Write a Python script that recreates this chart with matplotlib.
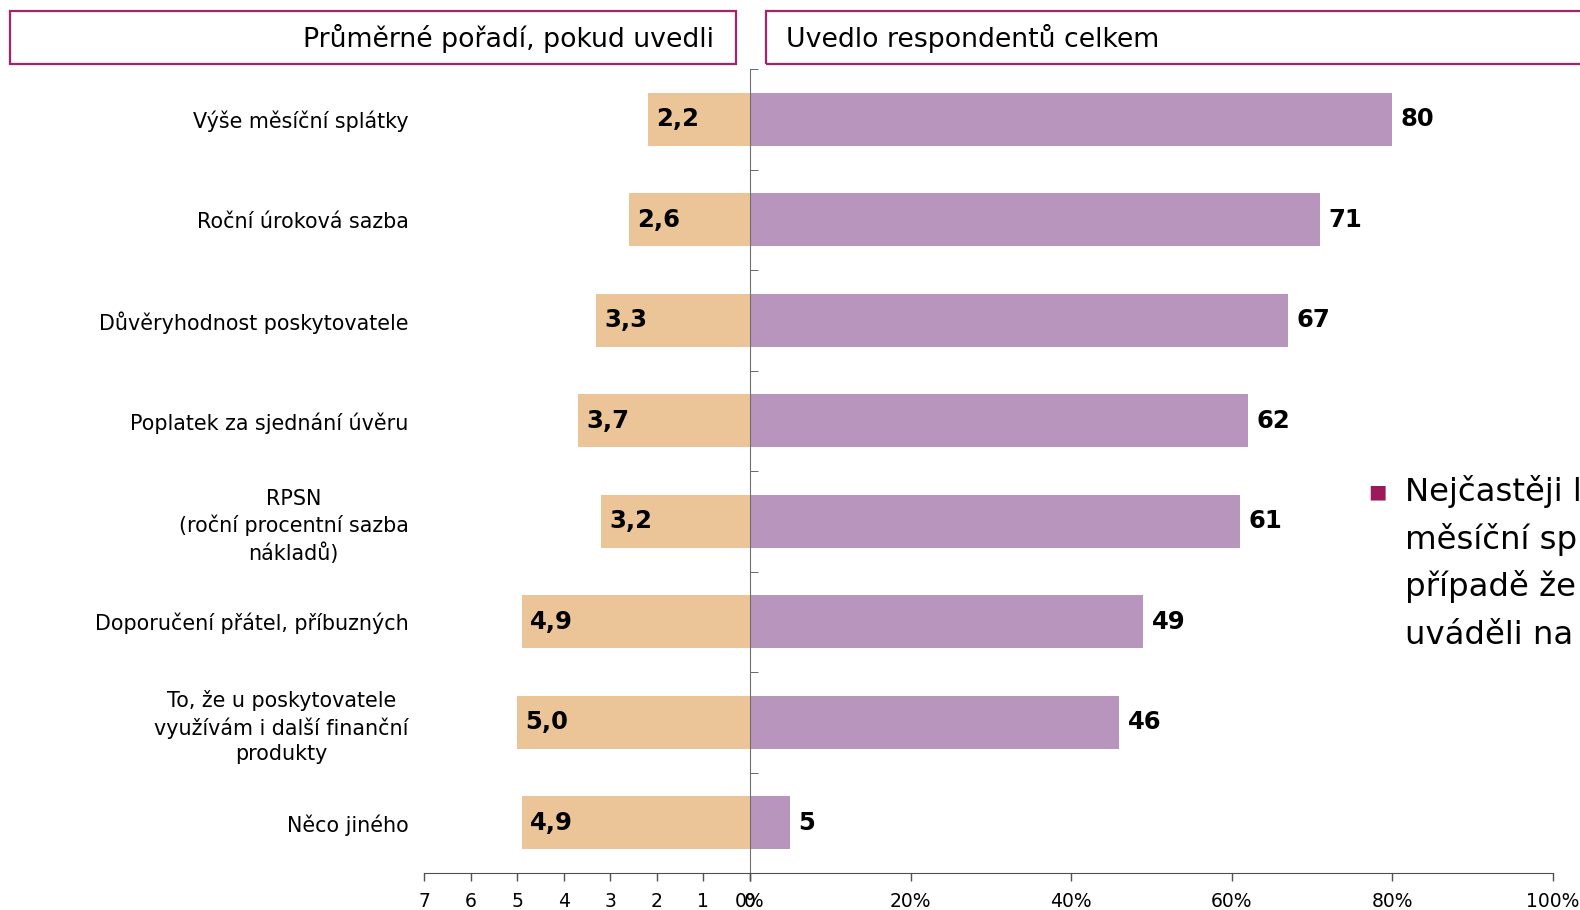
import matplotlib
matplotlib.use("Agg")
import matplotlib.pyplot as plt
from matplotlib.patches import Rectangle
from matplotlib.ticker import FixedLocator
import numpy as np

plt.rcParams["font.family"] = ["DejaVu Sans"]

# data
categories = [
    "Výše měsíční splátky",
    "Roční úroková sazba",
    "Důvěryhodnost poskytovatele",
    "Poplatek za sjednání úvěru",
    "RPSN\n(roční procentní sazba\nnákladů)",
    "Doporučení přátel, příbuzných",
    "To, že u poskytovatele\nvyužívám i další finanční\nprodukty",
    "Něco jiného",
]
avg_rank = [2.2, 2.6, 3.3, 3.7, 3.2, 4.9, 5.0, 4.9]
share_pct = [80, 71, 67, 62, 61, 49, 46, 5]
rank_ticks = [7, 6, 5, 4, 3, 2, 1, 0]
pct_ticks = [0, 20, 40, 60, 80, 100]

C_TAN = "#EBC598"
C_PURPLE = "#B895BD"
C_FRAME = "#A3246A"
C_AXIS = "#505050"

W, H = 1580, 910
fig = plt.figure(figsize=(W / 100, H / 100), dpi=100)

def px(x0, y0, x1, y1):
    return [x0 / W, 1 - y1 / H, (x1 - x0) / W, (y1 - y0) / H]

y = np.arange(len(categories))

# left panel: average rank
axl = fig.add_axes(px(424, 69, 750, 873))
axl.barh(y, avg_rank, height=0.53, color=C_TAN)
axl.set_xlim(7, 0)
axl.set_ylim(len(categories) - 0.5, -0.5)
axl.set_xticks(rank_ticks)
axl.set_xticklabels([str(t) for t in rank_ticks])
axl.set_yticks(y)
axl.set_yticklabels(categories, fontsize=14.9)
for lab in axl.get_yticklabels():
    lab.set_multialignment("center")
    lab.set_linespacing(1.35)
axl.tick_params(axis="y", length=0, pad=11)
axl.tick_params(axis="x", direction="out", length=6, width=1, color=C_AXIS,
                labelsize=13.5, pad=8)
for s in ("top", "right", "left"):
    axl.spines[s].set_visible(False)
axl.spines["bottom"].set_color(C_AXIS)
for v, yy in zip(avg_rank, y):
    axl.annotate(f"{v:.1f}".replace(".", ","), (v, yy), xytext=(6, 0),
                 textcoords="offset points", ha="left", va="center",
                 fontsize=17.5, fontweight="bold")

# right panel: share of respondents
axr = fig.add_axes(px(750, 69, 1553, 873))
axr.barh(y, share_pct, height=0.53, color=C_PURPLE)
axr.set_xlim(0, 100)
axr.set_ylim(len(categories) - 0.5, -0.5)
axr.set_xticks(pct_ticks)
axr.set_xticklabels([f"{t}%" for t in pct_ticks])
axr.set_yticks([])
axr.yaxis.set_minor_locator(FixedLocator(np.arange(-0.5, len(categories), 1.0)))
axr.tick_params(axis="y", which="minor", direction="in", length=6, color=C_AXIS)
axr.tick_params(axis="x", direction="out", length=6, width=1, color=C_AXIS,
                labelsize=13.5, pad=8)
for s in ("top", "right"):
    axr.spines[s].set_visible(False)
axr.spines["left"].set_color("#707070")
axr.spines["bottom"].set_color(C_AXIS)
axr.patch.set_alpha(0)
for v, yy in zip(share_pct, y):
    axr.annotate(str(v), (v, yy), xytext=(6, 0), textcoords="offset points",
                 ha="left", va="center", fontsize=17.5, fontweight="bold")

# header boxes
fig.patches.append(Rectangle((10 / W, 1 - 64 / H), 726 / W, 53 / H, fill=False,
                             edgecolor=C_FRAME, lw=1.6, transform=fig.transFigure))
fig.patches.append(Rectangle((766 / W, 1 - 64 / H), 830 / W, 53 / H, fill=False,
                             edgecolor=C_FRAME, lw=1.6, transform=fig.transFigure))
fig.text(714 / W, 1 - 38 / H, "Průměrné pořadí, pokud uvedli", ha="right",
         va="center", fontsize=19.3)
fig.text(786 / W, 1 - 38 / H, "Uvedlo respondentů celkem", ha="left",
         va="center", fontsize=19.3)

# side note (cut off at the right edge like the original slide)
fig.text(1377 / W, 1 - 492 / H, "■", color="#9B1B5A", fontsize=14,
         ha="center", va="center")
fig.text(1405 / W, 1 - 475 / H,
         "Nejčastěji lidé uváděli výši\nměsíční splátky, v\npřípadě že ji uvedli,\nuváděli na prvním místě",
         ha="left", va="top", fontsize=23.3, linespacing=1.56)

fig.savefig("out.png", dpi=100, facecolor="white")
